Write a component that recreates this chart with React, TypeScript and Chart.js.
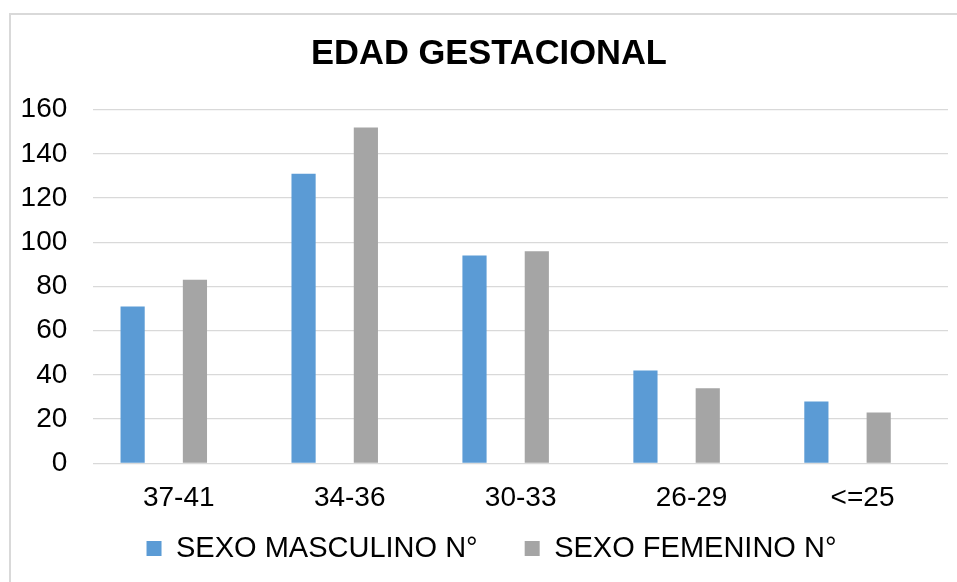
import React, { useEffect, useRef } from "react";
import { Chart, registerables } from "chart.js";

Chart.register(...registerables);

const chartTitle = "EDAD GESTACIONAL";
const categories = ["37-41", "34-36", "30-33", "26-29", "<=25"];
const seriesNames = ["SEXO MASCULINO N°", "SEXO FEMENINO N°"];
const masculino = [71, 131, 94, 42, 28];
const femenino = [83, 152, 96, 34, 23];
const yTicks = [0, 20, 40, 60, 80, 100, 120, 140, 160];

const FONT = "'Liberation Sans', Arial, sans-serif";

const unclipLabels = {
  id: "unclipLabels",
  afterLayout(chart: any) {
    if (chart.scales.y) chart.scales.y.left = 0;
    if (chart.scales.x) chart.scales.x.bottom = chart.height;
    if (chart.legend) {
      chart.legend.left += 2.5;
      chart.legend.right += 2.5;
    }
  },
};

export default function App() {
  const ref = useRef<HTMLCanvasElement>(null);

  useEffect(() => {
    const shift = 0.0877;
    const chart = new Chart(ref.current as HTMLCanvasElement, {
      type: "bar",
      data: {
        datasets: [
          {
            label: seriesNames[0],
            data: masculino.map((v, i) => ({ x: i, y: v })),
            backgroundColor: "#5B9BD5",
          },
          {
            label: seriesNames[1],
            data: femenino.map((v, i) => ({ x: i, y: v })),
            backgroundColor: "#A5A5A5",
          },
        ],
      },
      options: {
        animation: false,
        responsive: false,
        maintainAspectRatio: false,
        devicePixelRatio: 1,
        layout: { padding: { left: 30, right: 9, top: 0, bottom: 9 } },
        datasets: { bar: { categoryPercentage: 0.729, barPercentage: 0.388 } },
        plugins: {
          title: {
            display: true,
            text: chartTitle,
            color: "#000",
            font: { family: FONT, size: 34.5, weight: "bold", lineHeight: 1.2 },
            padding: { top: 33.3, bottom: 35 },
          },
          legend: {
            position: "bottom",
            labels: {
              color: "#000",
              font: { family: FONT, size: 29 },
              boxWidth: 15,
              boxHeight: 15,
              padding: 47,
            },
          },
          tooltip: { enabled: false },
        },
        scales: {
          x: {
            type: "linear",
            offset: false,
            min: -0.5 + shift,
            max: categories.length - 0.5 + shift,
            afterBuildTicks: (s: any) => {
              s.ticks = categories.map((_, i) => ({ value: i + shift }));
            },
            afterFit: (s: any) => {
              s.height = 23.7;
            },
            grid: { display: false, drawTicks: false },
            border: { display: false },
            ticks: {
              callback: (_v: any, i: number) => categories[i],
              color: "#000",
              font: { family: FONT, size: 28 },
              padding: 18.2,
              maxRotation: 0,
              autoSkip: false,
            },
          },
          y: {
            min: 0,
            max: 160,
            afterBuildTicks: (s: any) => {
              s.ticks = yTicks.map((v) => ({ value: v }));
            },
            afterFit: (s: any) => {
              s.width = 63.3;
            },
            grid: { color: "#D9D9D9", lineWidth: 1.3, drawTicks: false },
            border: { display: false },
            ticks: {
              color: "#000",
              font: { family: FONT, size: 28 },
              padding: 26,
            },
          },
        },
      } as any,
      plugins: [unclipLabels],
    });
    return () => chart.destroy();
  }, []);

  return (
    <div
      style={{
        position: "fixed",
        left: 0,
        top: 0,
        width: 957,
        height: 582,
        overflow: "hidden",
        background: "#fff",
      }}
    >
      <div
        style={{
          position: "absolute",
          left: 9,
          top: 13,
          width: 2000,
          height: 2000,
          borderTop: "2px solid #D9D9D9",
          borderLeft: "2px solid #D9D9D9",
        }}
      />
      <canvas
        ref={ref}
        width={957}
        height={582}
        style={{ position: "absolute", left: 0, top: 0, width: 957, height: 582, display: "block" }}
      />
    </div>
  );
}
